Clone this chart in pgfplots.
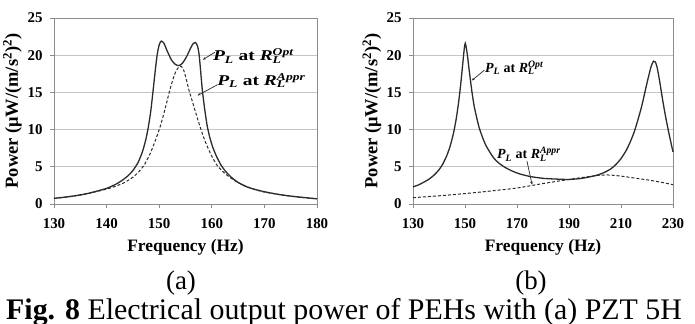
\documentclass[border=0pt]{standalone}
\usepackage{fontspec}
\setmainfont{Liberation Serif}
\usepackage{pgfplots}
\pgfplotsset{compat=1.18}
\usetikzlibrary{arrows.meta}
\definecolor{gridc}{HTML}{C4C4C4}
\definecolor{axc}{HTML}{8C8C8C}
\definecolor{curve}{HTML}{2B2B2B}
\newcommand\ann[1]{\bfseries\itshape P\textsubscript{L}\upshape{} at \itshape R\rlap{\textsubscript{L}}\textsuperscript{#1}}
\pgfplotsset{peh/.style={
  scale only axis, height=186bp, ymin=0, ymax=25, ytick={0,5,...,25},
  ymajorgrids, major grid style={gridc, line width=0.8bp},
  axis line style={axc, line width=0.8bp},
  tick style={axc, line width=0.8bp}, tick align=outside, major tick length=4bp,
  xtick pos=left, ytick pos=left,
  tick label style={font=\fontsize{15}{15}\selectfont\bfseries},
  xticklabel style={yshift=-7bp},
  yticklabel style={xshift=-4bp},
  /pgf/number format/assume math mode=true,
  xlabel={Frequency (Hz)},
  ylabel={Power (μW/(m/s\textsuperscript{2})\textsuperscript{2})},
  xlabel style={font=\fontsize{17.5}{17.5}\selectfont\bfseries, at={(axis description cs:0.5,-0.2565)}, anchor=base},
  ylabel style={font=\fontsize{18.5}{18.5}\selectfont\bfseries, at={(axis description cs:-0.158,0.5)}, anchor=center},
  clip=false,
}}
\begin{document}
\begin{tikzpicture}
\useasboundingbox (0,0) rectangle (695bp,324bp);
\begin{axis}[peh, at={(54bp,120bp)}, anchor=south west, width=263bp,
  xmin=130, xmax=180, xtick={130,140,...,180}]
\addplot[curve, line width=1.3bp, smooth, tension=0.4] coordinates {
(130,0.76) (133,1.0) (136,1.35) (138,1.7) (140,2.1) (141,2.4) (142,2.75) (143,3.2) (144,3.75)
(145,4.5) (146,5.6) (146.8,7.0) (147.4,8.5) (147.9,10.2) (148.4,12.5) (148.8,15) (149.2,17.6)
(149.6,20) (150,21.4) (150.4,21.9) (150.9,21.6) (151.5,20.6) (152.3,19.4) (153,18.8) (153.7,18.6)
(154.4,18.9) (155.2,19.8) (156,21.0) (156.5,21.6) (156.9,21.7) (157.3,21.2) (157.6,20)
(157.9,17.7) (158.2,15.3) (158.6,13) (159.1,10.6) (159.6,9) (160.2,7.6) (160.9,6.4) (161.7,5.3)
(162.6,4.4) (163.7,3.6) (165,2.9) (166.5,2.35) (168,2.0) (170,1.65) (173,1.25) (176,0.98) (180,0.7)};
\addplot[curve, line width=1bp, dash pattern=on 3bp off 2bp, smooth, tension=0.4] coordinates {
(130,0.74) (135,1.2) (140,2.0) (143,2.75) (145,3.6) (146.2,4.4) (147.2,5.3) (148.3,6.8)
(149.2,8.4) (150,10) (150.6,11.4) (151.2,13) (151.9,15) (152.5,16.5) (153.1,17.7)
(153.7,18.4) (154.2,18.5) (154.7,17.9) (155.2,16.6) (155.7,15.2) (156.3,13.8) (157.1,11.9)
(157.9,10.1) (158.7,8.5) (159.8,6.7) (161,5.2) (162.5,4.1) (164,3.3) (165.5,2.7) (167.5,2.1) (170,1.6) (175,1.05) (180,0.68)};
\node[anchor=west, inner sep=0] at (axis cs:160.2,19.9) {\scalebox{1.3}[1]{\fontsize{15}{15}\selectfont\ann{Opt}}};
\draw[curve, line width=0.7bp, -{Stealth[length=3bp,width=2.5bp]}] (axis cs:160.6,20.4) -- (axis cs:158.3,19.4);
\node[anchor=west, inner sep=0] at (axis cs:161,16.6) {\scalebox{1.3}[1]{\fontsize{15}{15}\selectfont\ann{Appr}}};
\draw[curve, line width=0.7bp, -{Stealth[length=3bp,width=2.5bp]}] (axis cs:161,16.0) -- (axis cs:157.3,14.6);
\end{axis}
\begin{axis}[peh, at={(413bp,120bp)}, anchor=south west, width=260bp,
  xmin=130, xmax=230, xtick={130,150,...,230}]
\addplot[curve, line width=1.3bp, smooth, tension=0.4] coordinates {
(130,2.3) (132,2.55) (134,2.9) (136,3.3) (138,3.85) (140,4.6) (141.5,5.4) (143,6.5) (144.3,7.8)
(145.5,9.4) (146.5,11.2) (147.4,13.3) (148.2,15.6) (148.9,18) (149.4,19.8) (149.8,21.1) (150.1,21.6)
(150.5,21) (151,19.8) (151.5,18.3) (152,16.9) (152.7,15) (153.5,13.2) (154.5,11.6) (155.5,10.2)
(156.7,9.0) (158,7.9) (159.5,7.0) (161,6.2) (163,5.5) (165.5,4.9) (168,4.45) (171,4.05) (175,3.7)
(180,3.45) (185,3.35) (190,3.3) (195,3.45) (200,3.8) (203,4.15) (206,4.7) (208,5.3) (210,6.1)
(212,7.2) (213.5,8.3) (215,9.6) (216.5,11.3) (218,13.2) (219.3,15.2) (220.5,17.0) (221.6,18.5)
(222.5,19.2) (223.2,19.1) (224,18.2) (225,16.2) (226.2,13.6) (227.5,11.1) (228.8,8.9) (230,7)};
\addplot[curve, line width=1bp, dash pattern=on 3bp off 2bp, smooth, tension=0.4] coordinates {
(130,0.85) (140,1.1) (150,1.4) (160,1.75) (170,2.15) (180,2.75) (190,3.3) (200,3.8)
(205,3.9) (210,3.75) (215,3.5) (220,3.25) (225,2.95) (230,2.6)};
\node[anchor=west, inner sep=0] at (axis cs:157.7,18.3) {\fontsize{14}{14}\selectfont\ann{Opt}};
\draw[curve, line width=0.7bp, -{Stealth[length=3bp,width=2.5bp]}] (axis cs:157.5,18.0) -- (axis cs:152.6,16.6);
\node[anchor=west, inner sep=0] at (axis cs:162.3,6.7) {\fontsize{14}{14}\selectfont\ann{Appr}};
\draw[curve, line width=0.7bp, -{Stealth[length=3bp,width=2.5bp]}] (axis cs:173.8,5.8) -- (axis cs:175.8,2.6);
\end{axis}
\node[anchor=base] at (181bp,35bp) {\fontsize{27}{27}\selectfont (a)};
\node[anchor=base] at (531bp,35bp) {\fontsize{27}{27}\selectfont (b)};
\node[anchor=base west, inner sep=0] at (6bp,5bp) {\fontsize{30}{30}\selectfont\textbf{Fig. 8} Electrical output power of PEHs with (a) PZT 5H};
\end{tikzpicture}
\end{document}
